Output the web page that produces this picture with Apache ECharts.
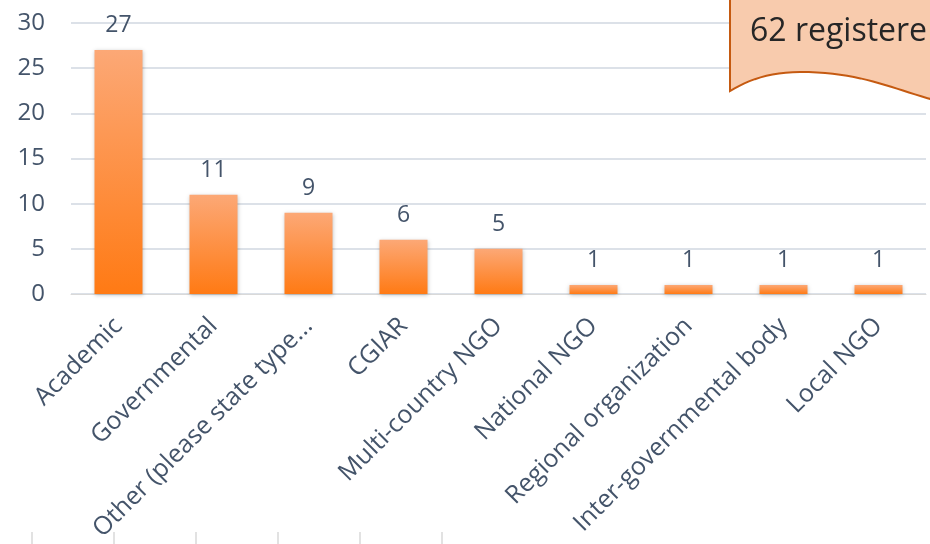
<!DOCTYPE html>
<html>
<head>
<meta charset="utf-8">
<script src="https://cdn.jsdelivr.net/npm/echarts@6/dist/echarts.min.js"></script>
<style>
  html, body { margin: 0; padding: 0; background: #fff; }
  #chart { width: 930px; height: 544px; }
</style>
</head>
<body>
<div id="chart"></div>
<script>
var categories = ['Academic', 'Governmental', 'Other (please state type...', 'CGIAR', 'Multi-country NGO',
    'National NGO', 'Regional organization', 'Inter-governmental body', 'Local NGO'];
var counts = [27, 11, 9, 6, 5, 1, 1, 1, 1];
var yTicks = { min: 0, max: 30, interval: 5 };
var calloutText = '62 registere';

var textColor = '#44546A';
var font = '"Open Sans", "Noto Sans", sans-serif';

var chart = echarts.init(document.getElementById('chart'));

// wavy-bottom "document" callout outline (two cubic curves)
function cubic(p0, p1, p2, p3, n) {
    var pts = [];
    for (var i = 0; i <= n; i++) {
        var t = i / n, u = 1 - t;
        pts.push([
            u*u*u*p0[0] + 3*u*u*t*p1[0] + 3*u*t*t*p2[0] + t*t*t*p3[0],
            u*u*u*p0[1] + 3*u*u*t*p1[1] + 3*u*t*t*p2[1] + t*t*t*p3[1]
        ]);
    }
    return pts;
}
var wave = cubic([934, 100], [890, 88], [860, 72], [800, 72], 20)
    .concat(cubic([800, 72], [770, 72], [748, 80], [730, 91], 12).slice(1));
var calloutPts = [[730, -4], [934, -4]].concat(wave);

var option = {
    animation: false,
    grid: { left: 71, right: 4, top: 23, bottom: 250, containLabel: false, outerBoundsMode: 'none' },
    xAxis: {
        type: 'category',
        data: categories,
        axisLine: { lineStyle: { color: '#D9D9D9', width: 1 } },
        axisTick: { show: false },
        axisLabel: {
            rotate: 45,
            interval: 0,
            margin: 28,
            color: textColor,
            fontSize: 25,
            fontFamily: font
        }
    },
    yAxis: {
        type: 'value',
        min: yTicks.min,
        max: yTicks.max,
        interval: yTicks.interval,
        axisLine: { show: false },
        axisTick: { show: false },
        splitLine: { lineStyle: { color: '#DCE1E8', width: 2 } },
        axisLabel: {
            margin: 26,
            color: textColor,
            fontSize: 24,
            fontFamily: font
        }
    },
    series: [{
        type: 'bar',
        data: counts,
        barWidth: 48,
        itemStyle: {
            color: {
                type: 'linear', x: 0, y: 0, x2: 0, y2: 1,
                colorStops: [
                    { offset: 0, color: '#FCA876' },
                    { offset: 1, color: '#FF7A14' }
                ]
            },
            shadowBlur: 4,
            shadowOffsetY: 1,
            shadowColor: 'rgba(0,0,0,0.25)'
        },
        label: {
            show: true,
            position: 'top',
            distance: 13,
            color: textColor,
            fontSize: 23,
            fontFamily: font
        }
    }],
    graphic: [
        {
            type: 'polygon',
            shape: { points: calloutPts },
            style: { fill: '#F8CBAD', stroke: '#C55A11', lineWidth: 2 },
            z: 10
        },
        {
            type: 'text',
            x: 750,
            y: 16,
            style: {
                text: calloutText,
                fill: '#262626',
                fontSize: 32,
                fontFamily: font
            },
            z: 11
        }
    ]
};

// faint tick marks of a lower panel at the bottom edge
for (var i = 0; i < 6; i++) {
    option.graphic.push({
        type: 'line',
        shape: { x1: 32 + i * 82, y1: 532, x2: 32 + i * 82, y2: 544 },
        style: { stroke: '#D9D9D9', lineWidth: 1.5 }
    });
}

chart.setOption(option);
</script>
</body>
</html>
